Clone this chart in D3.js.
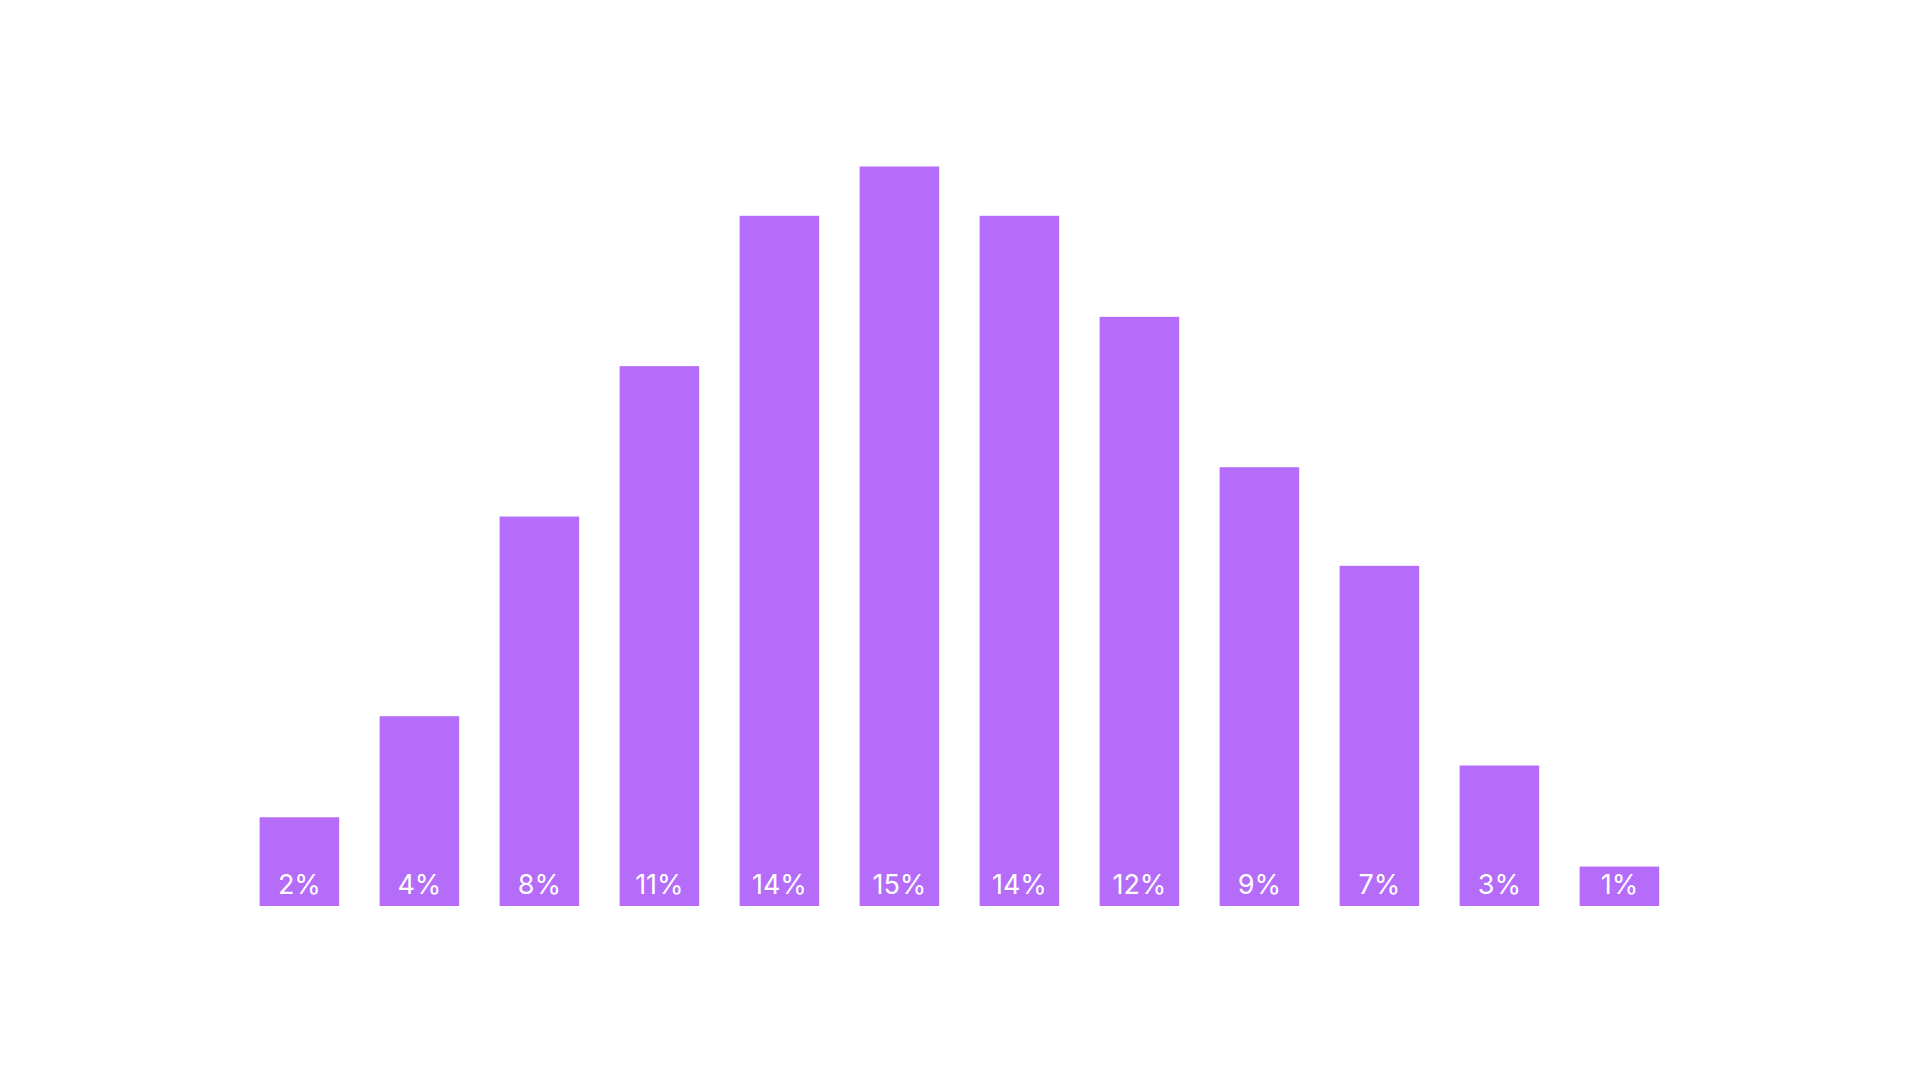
<!DOCTYPE html>
<html>
<head>
<meta charset="utf-8">
<script src="https://cdn.jsdelivr.net/npm/d3@7"></script>
<style>
  body { margin: 0; background: #fff; }
  svg { display: block; }
</style>
</head>
<body>
<svg width="1920" height="1080"></svg>
<script>
// values (percent)
const categories = ["a", "b", "c", "d", "e", "f", "g", "h", "i", "j", "k", "l"];
const values = [1.8, 3.85, 7.9, 10.95, 14, 15, 14, 11.95, 8.9, 6.9, 2.85, 0.8];
const labels = ["2%", "4%", "8%", "11%", "14%", "15%", "14%", "12%", "9%", "7%", "3%", "1%"];

const svg = d3.select("svg");
const baseY = 906;

const scX = d3.scaleBand()
    .domain(categories)
    .range([259.6, 1659.2])
    .paddingInner(0.337)
    .paddingOuter(0);

const scY = d3.scaleLinear()
    .domain([0, 15])
    .range([baseY, 166.5]);

const data = categories.map((c, i) => ({ cat: c, value: values[i], label: labels[i] }));

svg.selectAll(".bar")
    .data(data)
    .enter()
    .append("rect")
    .attr("x", d => scX(d.cat))
    .attr("y", d => scY(d.value))
    .attr("width", scX.bandwidth())
    .attr("height", d => baseY - scY(d.value))
    .style("fill", "#b56cf9");

svg.selectAll(".lbl")
    .data(data)
    .enter()
    .append("text")
    .attr("x", d => scX(d.cat) + scX.bandwidth() / 2)
    .attr("y", baseY - 12)
    .attr("text-anchor", "middle")
    .style("font-family", "Inter, 'DejaVu Sans', sans-serif")
    .style("font-size", "27px")
    .style("fill", "#fff")
    .text(d => d.label);
</script>
</body>
</html>
